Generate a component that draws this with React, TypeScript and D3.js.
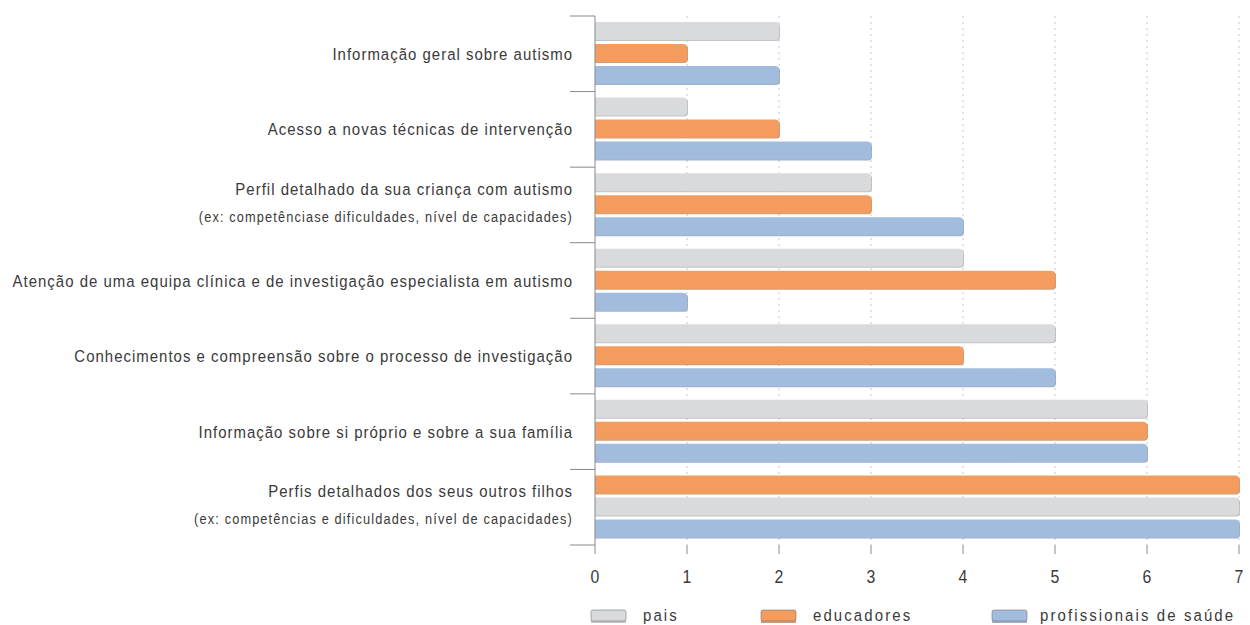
import React from "react";
import * as d3 from "d3";

const categories = [
  ["Informação geral sobre autismo"],
  ["Acesso a novas técnicas de intervenção"],
  ["Perfil detalhado da sua criança com autismo", "(ex: competênciase dificuldades, nível de capacidades)"],
  ["Atenção de uma equipa clínica e de investigação especialista em autismo"],
  ["Conhecimentos e compreensão sobre o processo de investigação"],
  ["Informação sobre si próprio e sobre a sua família"],
  ["Perfis detalhados dos seus outros filhos", "(ex: competências e dificuldades, nível de capacidades)"],
];
const pais = [2, 1, 3, 4, 5, 6, 7];
const educadores = [1, 2, 3, 5, 4, 6, 7];
const profissionais = [2, 3, 4, 1, 5, 6, 7];
const seriesNames = ["pais", "educadores", "profissionais de saúde"];
const barOrder = [
  ["pais", "educadores", "profissionais de saúde"],
  ["pais", "educadores", "profissionais de saúde"],
  ["pais", "educadores", "profissionais de saúde"],
  ["pais", "educadores", "profissionais de saúde"],
  ["pais", "educadores", "profissionais de saúde"],
  ["pais", "educadores", "profissionais de saúde"],
  ["educadores", "pais", "profissionais de saúde"],
];
const xTicks = [0, 1, 2, 3, 4, 5, 6, 7];

const colors: Record<string, string> = {
  pais: "#d9dadc",
  educadores: "#f39c5d",
  "profissionais de saúde": "#a2bcde",
};
const shadows: Record<string, string> = {
  pais: "#a9aaac",
  educadores: "#c07440",
  "profissionais de saúde": "#7890b0",
};
const values: Record<string, number[]> = {
  pais,
  educadores,
  "profissionais de saúde": profissionais,
};

const FONT = "'Liberation Sans', Arial, sans-serif";
const TXT = "#3a3a3a";
const SX = 0.88;

function barPath(x0: number, y: number, w: number, h: number, r: number) {
  const rr = Math.min(r, w / 2, h / 2);
  return `M${x0},${y}H${x0 + w - rr}Q${x0 + w},${y} ${x0 + w},${y + rr}V${y + h - rr}Q${x0 + w},${y + h} ${x0 + w - rr},${y + h}H${x0}Z`;
}

function CText(props: {
  x: number; y: number; size: number; ls: number; anchor?: string; children: React.ReactNode;
}) {
  const { x, y, size, ls, anchor = "start", children } = props;
  return (
    <g transform={`translate(${x},${y}) scale(${SX},1)`}>
      <text x={0} y={0} textAnchor={anchor} fontFamily={FONT} fontSize={size} letterSpacing={ls} fill={TXT}>
        {children}
      </text>
    </g>
  );
}

export default function App() {
  const W = 1250, H = 625;
  const x = d3.scaleLinear().domain([0, 7]).range([595, 1239]);
  const idx = categories.map((_, i) => i);
  const y = d3.scaleBand<number>().domain(idx).range([16, 545]).padding(0);
  const inner = d3.scaleBand<number>().domain([0, 1, 2]).range([6, 68]).paddingInner(4 / 22);
  const bw = inner.bandwidth();
  const boundaries = idx.map((i) => y(i)!).concat([545]);

  const legendX = [591, 761, 992];
  const legendTextX = [643, 813, 1040];

  return (
    <svg width={W} height={H} style={{ position: "absolute", left: 0, top: 0 }}>
      <rect width={W} height={H} fill="#fff" />
      {xTicks.slice(1).map((t) => (
        <line key={t} x1={x(t)} x2={x(t)} y1={16} y2={545} stroke="#c8c8c8" strokeDasharray="2,4" />
      ))}
      {idx.map((i) =>
        barOrder[i].map((s, j) => {
          const yy = y(i)! + inner(j)!;
          const w = x(values[s][i]) - x(0);
          return (
            <g key={s + i}>
              <path d={barPath(x(0), yy + 1, w + 1, bw, 4)} fill={shadows[s]} opacity={0.7} />
              <path d={barPath(x(0), yy, w, bw, 4)} fill={colors[s]} />
            </g>
          );
        })
      )}
      <line x1={595} x2={595} y1={16} y2={545} stroke="#888" />
      {boundaries.map((b, k) => (
        <line key={k} x1={570} x2={595} y1={b} y2={b} stroke="#888" />
      ))}
      {xTicks.map((t) => (
        <g key={t}>
          <line x1={x(t)} x2={x(t)} y1={545} y2={554} stroke="#888" />
          <CText x={x(t)} y={583} size={18} ls={0} anchor="middle">{t}</CText>
        </g>
      ))}
      {categories.map((c, i) => {
        const cy = y(i)! + y.bandwidth() / 2;
        if (c.length === 1) {
          return (
            <CText key={i} x={573} y={cy + 6} size={17} ls={1.15} anchor="end">{c[0]}</CText>
          );
        }
        return (
          <g key={i}>
            <CText x={573} y={cy - 10} size={17} ls={1.15} anchor="end">{c[0]}</CText>
            <CText x={573} y={cy + 17} size={14.5} ls={1.3} anchor="end">{c[1]}</CText>
          </g>
        );
      })}
      {seriesNames.map((s, k) => (
        <g key={s}>
          <path d={`M${legendX[k]},${611}h35v11h-35z`} fill={shadows[s]} opacity={0.7} transform="translate(0,1)" />
          <rect x={legendX[k]} y={610} width={35} height={11} rx={2} fill={colors[s]} stroke="#777" strokeWidth={0.6} />
          <CText x={legendTextX[k]} y={621} size={17} ls={2.4}>{s}</CText>
        </g>
      ))}
    </svg>
  );
}
